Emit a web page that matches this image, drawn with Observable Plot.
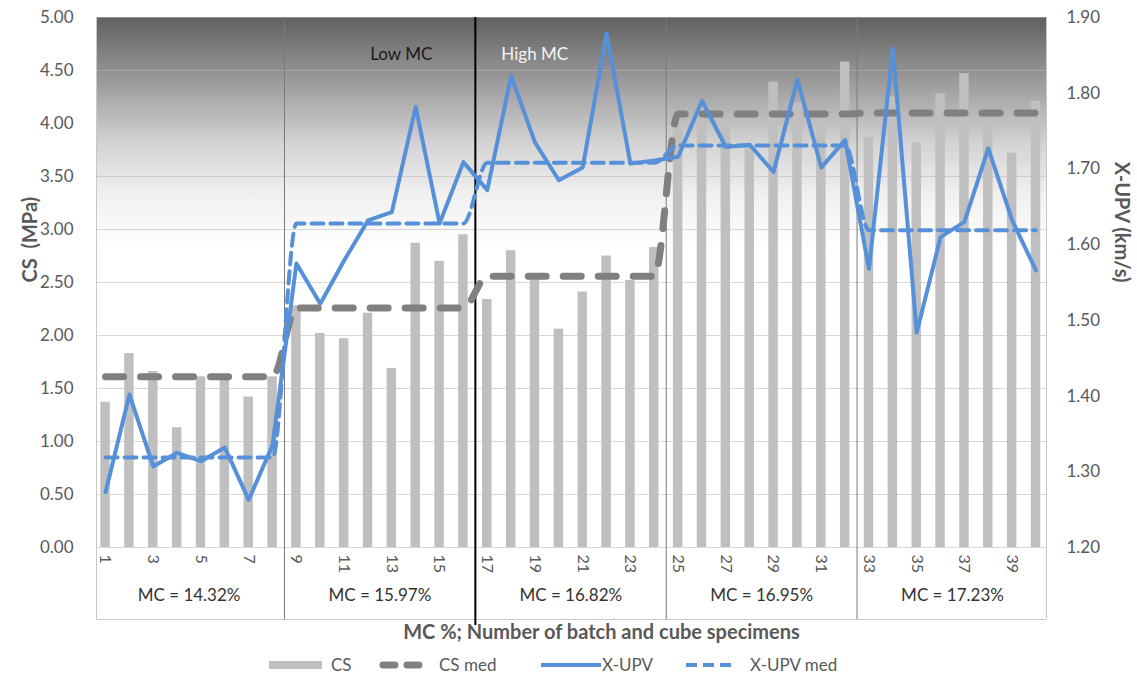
<!DOCTYPE html>
<html>
<head>
<meta charset="utf-8">
<script src="https://cdn.jsdelivr.net/npm/d3@7"></script>
<script src="https://cdn.jsdelivr.net/npm/@observablehq/plot@0.6"></script>
<style>
  body { margin: 0; background: #fff; font-family: Lato, "Open Sans", sans-serif; }
  #legend { position: relative; width: 1137px; height: 29px; }
  #legend .sw { position: absolute; top: 0; height: 29px; display: block; }
  #legend .lb { position: absolute; top: 0; height: 29px; line-height: 29px; font-size: 17px; color: #595959; white-space: nowrap; }
</style>
</head>
<body>
<div id="chart"></div>
<div id="legend"></div>
<script>
// Batch / cube specimen numbers
const batch = [1, 2, 3, 4, 5, 6, 7, 8, 9, 10, 11, 12, 13, 14, 15, 16, 17, 18, 19, 20,
  21, 22, 23, 24, 25, 26, 27, 28, 29, 30, 31, 32, 33, 34, 35, 36, 37, 38, 39, 40];

// Compressive strength (MPa)
const cs = [1.37, 1.83, 1.66, 1.13, 1.61, 1.60, 1.42, 1.61,
  2.28, 2.02, 1.97, 2.21, 1.69, 2.87, 2.70, 2.95,
  2.34, 2.80, 2.53, 2.06, 2.41, 2.75, 2.52, 2.83,
  4.09, 4.17, 4.00, 3.76, 4.39, 4.19, 4.04, 4.58,
  3.87, 4.25, 3.82, 4.28, 4.47, 3.97, 3.72, 4.21];

// Ultrasonic pulse velocity (km/s)
const xupv = [1.273, 1.402, 1.307, 1.325, 1.314, 1.332, 1.263, 1.335,
  1.575, 1.522, 1.579, 1.632, 1.643, 1.782, 1.628, 1.709,
  1.672, 1.823, 1.735, 1.685, 1.702, 1.879, 1.707, 1.711,
  1.716, 1.790, 1.729, 1.732, 1.696, 1.818, 1.702, 1.738,
  1.568, 1.859, 1.484, 1.610, 1.630, 1.727, 1.632, 1.566];

// Moisture-content groups
const groupLabels = ["MC = 14.32%", "MC = 15.97%", "MC = 16.82%", "MC = 16.95%", "MC = 17.23%"];
const groupFirst = [1, 9, 17, 25, 33];
const groupLast = [8, 16, 24, 32, 40];
const csMedian = [1.61, 2.26, 2.56, 4.09, 4.10];
const upvMedian = [1.319, 1.628, 1.708, 1.731, 1.619];

// Axis ticks
const csTicks = [0, 0.5, 1, 1.5, 2, 2.5, 3, 3.5, 4, 4.5, 5];
const upvTicks = [1.2, 1.3, 1.4, 1.5, 1.6, 1.7, 1.8, 1.9];
const batchTicks = [1, 3, 5, 7, 9, 11, 13, 15, 17, 19, 21, 23, 25, 27, 29, 31, 33, 35, 37, 39];

// Secondary (velocity) axis mapped onto the strength scale
const upvMin = 1.2, upvMax = 1.9, csMin = 0, csMax = 5;
const toCS = v => csMin + (v - upvMin) / (upvMax - upvMin) * (csMax - csMin);
const fromCS = c => upvMin + (c - csMin) / (csMax - csMin) * (upvMax - upvMin);

const groupOf = b => groupLast.findIndex(l => b <= l);
const rows = batch.map((b, i) => ({
  b,
  cs: cs[i],
  upv: toCS(xupv[i]),
  csMed: csMedian[groupOf(b)],
  upvMed: toCS(upvMedian[groupOf(b)])
}));

const boundaries = groupLast.slice(0, -1).map(l => l + 0.5);
const phaseSplit = groupLast[1] + 0.5; // low MC | high MC
const thinBounds = boundaries.filter(v => v !== phaseSplit);
const xDomain = [0.62, 40.44];
const tableDepth = 72;

const grey = "#595959";
const blue = "#5590d8";

// Shaded plot background, dark at the top fading to white
function backdrop(index, scales, values, dims) {
  const {width, height, marginLeft, marginRight, marginTop, marginBottom} = dims;
  const g = d3.create("svg:g");
  const grad = g.append("defs").append("linearGradient")
    .attr("id", "bg-fade").attr("x1", 0).attr("y1", 0).attr("x2", 0).attr("y2", 1);
  [[0, "#606060"], [0.12, "#9a9a9a"], [0.24, "#d4d4d4"], [0.34, "#f1f1f1"], [0.44, "#ffffff"], [1, "#ffffff"]]
    .forEach(([o, c]) => grad.append("stop").attr("offset", o).attr("stop-color", c));
  g.append("rect")
    .attr("x", marginLeft).attr("y", marginTop)
    .attr("width", width - marginLeft - marginRight)
    .attr("height", height - marginTop - marginBottom)
    .attr("fill", "url(#bg-fade)");
  return g.node();
}

const chart = Plot.plot({
  width: 1137,
  height: 650,
  marginLeft: 96,
  marginRight: 91,
  marginTop: 17,
  marginBottom: 103,
  style: {fontFamily: "Lato, 'Open Sans', sans-serif", background: "#fff", overflow: "visible"},
  x: {type: "linear", domain: xDomain, axis: null},
  y: {domain: [csMin, csMax]},
  marks: [
    backdrop,
    Plot.gridY(csTicks, {stroke: "#b8b8b8", strokeOpacity: 0.55, strokeWidth: 1}),
    // plot / table borders
    Plot.ruleX(xDomain, {stroke: "#c8c8c8", insetBottom: -tableDepth}),
    Plot.ruleY([0], {stroke: "#c8c8c8", dy: tableDepth}),
    // group separators
    Plot.ruleX(thinBounds, {stroke: "#7a7a7a", strokeWidth: 1, insetBottom: -tableDepth}),
    Plot.ruleX([phaseSplit], {stroke: "#000", strokeWidth: 2, insetBottom: -tableDepth - 6}),
    // CS bars
    Plot.rectY(rows, {x1: d => d.b - 0.5, x2: d => d.b + 0.5, y: "cs", fill: "#bfbfbf", insetLeft: 7.2, insetRight: 7.2}),
    // CS median
    Plot.line(rows, {x: "b", y: "csMed", stroke: "#808080", strokeWidth: 7, strokeDasharray: "18 17", strokeLinecap: "round", curve: "monotone-x"}),
    // X-UPV
    Plot.line(rows, {x: "b", y: "upv", stroke: blue, strokeWidth: 4, strokeLinejoin: "round"}),
    // X-UPV median
    Plot.line(rows, {x: "b", y: "upvMed", stroke: blue, strokeWidth: 4, strokeDasharray: "12 7", curve: "monotone-x"}),
    // axes
    Plot.axisY(csTicks, {anchor: "left", tickSize: 0, tickPadding: 23, tickFormat: d => d.toFixed(2), fontSize: 17, color: grey, label: null}),
    Plot.axisY(upvTicks.map(toCS), {anchor: "right", tickSize: 0, tickPadding: 20, tickFormat: d => fromCS(d).toFixed(2), fontSize: 17, color: grey, label: null}),
    // batch numbers
    Plot.text(batchTicks, {x: d => d, text: d => String(d), frameAnchor: "bottom", rotate: 90, textAnchor: "start", lineAnchor: "middle", dy: 7, fontSize: 16, fill: grey}),
    // group labels
    Plot.text(groupLabels, {x: (d, i) => (groupFirst[i] + groupLast[i]) / 2, text: d => d, frameAnchor: "bottom", dy: 53, fontSize: 17, fill: "#333"}),
    // phase annotations
    Plot.text(["Low MC"], {x: [phaseSplit], text: d => d, frameAnchor: "top", dy: 30, dx: -43, textAnchor: "end", fontSize: 17, fill: "#1a1a1a"}),
    Plot.text(["High MC"], {x: [phaseSplit], text: d => d, frameAnchor: "top", dy: 30, dx: 26, textAnchor: "start", fontSize: 17, fill: "#f4f4f4"}),
    // axis titles
    Plot.text(["CS\u00a0 (MPa)"], {text: d => d, frameAnchor: "left", dx: -66, rotate: -90, fontSize: 20, fontWeight: "bold", fill: grey}),
    Plot.text(["X-UPV (km/s)"], {text: d => d, frameAnchor: "right", dx: 75, rotate: 90, fontSize: 20, fontWeight: "bold", fill: grey}),
    Plot.text(["MC %; Number of batch and cube specimens"], {text: d => d, frameAnchor: "bottom", dy: 91, dx: 30, fontSize: 20, fontWeight: "bold", fill: grey})
  ]
});
document.getElementById("chart").appendChild(chart);

// Legend
const legend = d3.select("#legend");
const items = [
  {label: "CS", swLeft: 269, swWidth: 53, textLeft: 331, kind: "bar"},
  {label: "CS med", swLeft: 379, swWidth: 44, textLeft: 439, kind: "csmed"},
  {label: "X-UPV", swLeft: 541, swWidth: 60, textLeft: 602, kind: "upv"},
  {label: "X-UPV med", swLeft: 686, swWidth: 46, textLeft: 750, kind: "upvmed"}
];
items.forEach(it => {
  const s = legend.append("svg").attr("class", "sw")
    .style("left", it.swLeft + "px").attr("width", it.swWidth).attr("height", 29);
  if (it.kind === "bar") {
    s.append("rect").attr("x", 0).attr("y", 11).attr("width", it.swWidth).attr("height", 8).attr("fill", "#bfbfbf");
  } else if (it.kind === "csmed") {
    s.append("line").attr("x1", 4).attr("x2", it.swWidth - 4).attr("y1", 15).attr("y2", 15)
      .attr("stroke", "#808080").attr("stroke-width", 7).attr("stroke-linecap", "round").attr("stroke-dasharray", "12 12");
  } else if (it.kind === "upv") {
    s.append("line").attr("x1", 0).attr("x2", it.swWidth).attr("y1", 15).attr("y2", 15)
      .attr("stroke", blue).attr("stroke-width", 4);
  } else {
    s.append("line").attr("x1", 0).attr("x2", it.swWidth).attr("y1", 15).attr("y2", 15)
      .attr("stroke", blue).attr("stroke-width", 4).attr("stroke-dasharray", "11 6");
  }
  legend.append("div").attr("class", "lb").style("left", it.textLeft + "px").text(it.label);
});
</script>
</body>
</html>
